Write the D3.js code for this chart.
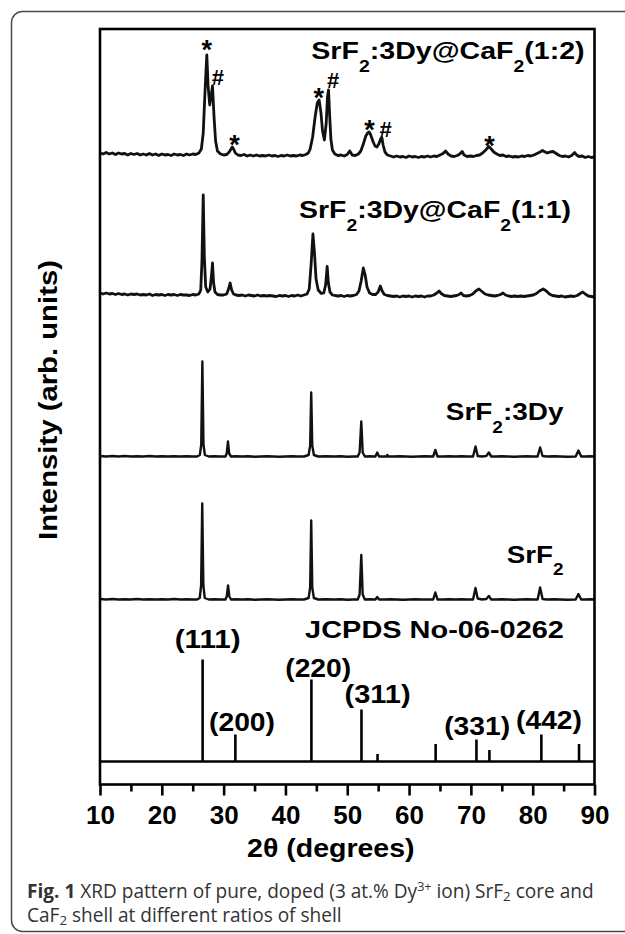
<!DOCTYPE html>
<html><head><meta charset="utf-8">
<script src="https://cdn.jsdelivr.net/npm/d3@7"></script>
<style>html,body{margin:0;padding:0;background:#fff;} svg{display:block;}</style>
</head><body>
<svg id="chart" width="625" height="934"></svg>
<script>
// ================= DATA =================
// 2θ (degrees) vs intensity (arb. units, relative to each pattern's own baseline)
const shell12 = [[10,2],[10.5,1],[11,2.5],[11.5,1],[12,2],[12.5,0.5],[13,2],[13.5,1],[14,1.5],[14.5,0],[15,1.5],[15.5,0.5],[16,1.5],[16.5,0],[17,1],[17.5,0],[18,1.5],[18.5,0],[19,1],[19.5,-0.5],[20,1],[20.5,0],[21,0.5],[21.5,-0.5],[22,1],[22.5,0],[23,0.5],[23.5,-0.5],[24,1],[24.5,0],[25,1],[25.5,0.5],[26,2],[26.4,6],[26.7,22],[27.0,65],[27.28,100],[27.5,68],[27.75,50],[28.0,60],[28.2,69],[28.45,38],[28.7,14],[29.0,4],[29.5,1],[30,0],[30.5,0.5],[30.9,3],[31.2,6],[31.4,8],[31.6,6],[31.9,2],[32.3,0],[32.8,-0.5],[33.3,0.5],[33.8,-1],[34.3,0],[34.8,-1],[35.3,0],[35.8,-1],[36.3,-0.5],[36.8,-1],[37.3,0],[37.8,-1],[38.3,-0.5],[38.8,-1.5],[39.3,-0.5],[39.8,-1],[40.3,0],[40.8,-1],[41.3,-0.5],[41.8,-1],[42.3,0],[42.8,-0.5],[43.3,0.5],[43.7,2],[44.0,6],[44.4,18],[44.8,38],[45.15,52],[45.45,55],[45.75,42],[46.0,24],[46.3,15],[46.6,32],[46.8,58],[46.97,65],[47.15,40],[47.35,16],[47.6,5],[48.0,1],[48.5,-0.5],[49,0],[49.5,-1],[50,0.5],[50.4,4],[50.8,0],[51.3,-0.5],[51.8,1],[52.2,4],[52.6,11],[53.0,19],[53.3,22],[53.55,23],[53.8,20],[54.2,13],[54.5,9],[54.8,8],[55.1,11],[55.4,16],[55.6,17.5],[55.8,10],[56.1,3],[56.5,0],[57,-1],[57.5,-2],[58,-1],[58.5,-2],[59,-1.5],[59.5,-2.5],[60,-1],[60.5,-2],[61,-1.5],[61.5,-2.5],[62,-1.5],[62.5,-2],[63,-1],[63.5,-2],[64,-1],[64.5,-1.5],[65,0],[65.5,1.5],[65.9,4],[66.3,1],[66.8,-1],[67.3,-1.5],[67.8,-0.5],[68.2,1],[68.6,3.5],[68.9,0],[69.4,-1.5],[69.9,-1],[70.4,-1.5],[70.9,-0.5],[71.4,0],[71.9,2],[72.4,5],[72.9,8.5],[73.3,6],[73.7,3],[74.2,1],[74.7,-0.5],[75.2,0],[75.7,-1.5],[76.2,-1],[76.7,-2],[77.2,-1.5],[77.7,-2],[78.2,-1],[78.7,-1.5],[79.2,-0.5],[79.7,-1],[80.2,0],[80.7,1.5],[81.2,3],[81.6,4.5],[82.0,3],[82.4,2],[82.8,3],[83.3,3.5],[83.8,1.5],[84.3,-0.5],[84.8,-1.5],[85.3,-1],[85.8,-2],[86.3,-0.5],[86.8,2.5],[87.1,0],[87.5,-1.5],[88,-1],[88.5,-2.5],[89,-1.5],[89.5,-2.5],[90,-2]];

const shell11 = [[10,2],[10.5,1],[11,2],[11.5,1],[12,1.5],[12.5,0.5],[13,1.5],[13.5,0.5],[14,1],[14.5,0],[15,1],[15.5,0.5],[16,1],[16.5,0],[17,0.5],[17.5,0],[18,1],[18.5,-0.5],[19,0.5],[19.5,0],[20,0.5],[20.5,-0.5],[21,0.5],[21.5,0],[22,0.5],[22.5,-0.5],[23,0.5],[23.5,0],[24,0],[24.5,-0.5],[25,0.5],[25.5,0],[26.0,1],[26.3,5],[26.5,35],[26.7,100],[26.88,38],[27.1,8],[27.45,3],[27.8,6],[28.05,20],[28.2,32],[28.38,12],[28.6,3],[29.0,0.5],[29.5,0],[30,0],[30.5,1],[30.85,7],[31.05,12],[31.3,5],[31.6,1],[32,0],[32.5,-0.5],[33,0],[33.5,-1],[34,0],[34.5,-0.5],[35,-1],[35.5,0],[36,-1],[36.5,-0.5],[37,-1],[37.5,-0.5],[38,-1],[38.5,-1.5],[39,-0.5],[39.5,-1],[40,-0.5],[40.5,-1.5],[41,-0.5],[41.5,-1],[42,0],[42.5,-1],[43,0],[43.5,1],[43.85,6],[44.15,30],[44.45,61],[44.7,42],[44.95,16],[45.3,5],[45.8,1.5],[46.2,2],[46.5,10],[46.75,28.5],[46.95,12],[47.2,3],[47.6,0],[48,-0.5],[48.5,-1],[49,-0.5],[49.5,-1.5],[50,-0.5],[50.5,-1],[51,-0.5],[51.5,0.5],[51.9,4],[52.25,14],[52.6,27],[52.9,20],[53.2,8],[53.6,2],[54.1,0.5],[54.6,0.5],[55.0,3],[55.35,9],[55.65,4],[56.0,0.5],[56.5,-0.5],[57,-1],[57.5,-1.5],[58,-1],[58.5,-2],[59,-1],[59.5,-1.5],[60,-1],[60.5,-2],[61,-1],[61.5,-1.5],[62,-1],[62.5,-2],[63,-1],[63.5,-1],[64,0],[64.5,2],[64.85,4],[65.2,1.5],[65.7,-0.5],[66.2,-1],[66.7,-1.5],[67.2,-1],[67.7,-0.5],[68.1,0.5],[68.4,2],[68.8,-0.5],[69.3,-1],[69.8,-0.5],[70.3,1],[70.8,4],[71.3,6],[71.8,3.5],[72.3,1],[72.8,0],[73.3,-0.5],[73.8,-1],[74.3,-0.5],[74.8,0.5],[75.2,2],[75.6,0],[76.1,-1],[76.6,-1.5],[77.1,-1],[77.6,-1.5],[78.1,-1],[78.6,-1.5],[79.1,-1],[79.6,-0.5],[80.1,0],[80.6,1.5],[81.1,4],[81.7,6],[82.2,4],[82.7,1],[83.2,-0.5],[83.7,-1],[84.2,-1.5],[84.7,-1],[85.2,-2],[85.7,-1.5],[86.2,-1],[86.7,-1.5],[87.2,-0.5],[87.7,1.5],[88.1,3],[88.5,1],[89,-1],[89.5,-1.5],[90,-2]];

const doped = [[10,0.5],[11,0],[12,0.5],[13,0],[14,0.5],[15,0],[16,0.3],[17,0],[18,0.5],[19,0],[20,0.3],[21,0],[22,0.3],[23,0],[24,0.3],[25,0],[25.7,0],[26.15,1.5],[26.38,12],[26.56,95],[26.74,12],[26.97,1.5],[27.6,0],[28.5,0.3],[29.5,0],[30.3,0],[30.5,3],[30.7,15],[30.9,3],[31.2,0],[32,0.3],[33,0],[34,0.3],[35,-0.3],[36,0],[37,0.3],[38,0],[39,-0.3],[40,0],[41,0.3],[42,0],[43,0],[43.75,1.5],[44.0,11],[44.17,64],[44.34,11],[44.6,1.5],[45.3,0],[46.5,0.3],[48,0],[49,0.3],[50,-0.3],[51,0],[51.7,0],[52.0,4],[52.27,35],[52.5,4],[52.85,0],[53.6,0.3],[54.55,0],[54.85,4],[55.15,0],[55.8,0],[56.35,0],[56.5,1.5],[56.65,0],[57.5,0],[58.5,0.3],[59.5,0],[60.5,-0.3],[61.5,0],[62.5,0.3],[63.9,0],[64.25,6.5],[64.6,0],[65.5,0],[66.5,0.3],[67.5,0],[68.5,0.3],[69.5,0],[70.35,0],[70.75,10],[71.1,0.5],[71.8,0],[72.5,0.5],[72.9,4],[73.3,0],[74,0],[75,0.3],[76,0],[77,-0.3],[78,0],[79,0.3],[80,0],[80.8,0],[81.2,9],[81.6,0.5],[82.3,0],[83.5,0.3],[84.5,0],[85.5,-0.3],[86.95,0],[87.4,6],[87.85,0],[88.5,0],[89.3,0.3],[90,0]];

const pure = [[10,0.5],[11,0],[12,0.5],[13,0],[14,0.3],[15,0],[16,0.5],[17,0],[18,0.3],[19,0],[20,0.3],[21,0],[22,0.5],[23,0],[24,0.3],[25,0],[25.7,0],[26.13,1.5],[26.36,14],[26.54,96],[26.72,14],[26.95,1.5],[27.6,0],[28.5,0.3],[29.5,0],[30.3,0],[30.5,3],[30.72,14],[30.92,3],[31.2,0],[32,0.3],[33,0],[34,0.3],[35,-0.3],[36,0],[37,0.3],[38,0],[39,-0.3],[40,0],[41,0.3],[42,0],[43,0],[43.75,1.5],[44.0,12],[44.17,79],[44.34,12],[44.6,1.5],[45.3,0],[46.5,0.3],[48,0],[49,0.3],[50,-0.3],[51,0],[51.7,0],[52.0,5],[52.27,44.5],[52.5,5],[52.85,0],[53.6,0.3],[54.55,0],[54.85,2.5],[55.15,0],[56,0],[57,0.3],[58,0],[59,-0.3],[60,0],[61,0.3],[62,0],[63,0],[63.9,0],[64.25,7],[64.6,0],[65.5,0],[66.5,0.3],[67.5,0],[68.5,0.3],[69.5,0],[70.35,0],[70.75,11.5],[71.1,1],[71.8,0],[72.5,0.5],[72.9,3.5],[73.3,0],[74,0],[75,0.3],[76,0],[77,-0.3],[78,0],[79,0.3],[80,0],[80.8,0],[81.2,12],[81.6,0.5],[82.3,0],[83.5,0.3],[84.5,0],[85.5,-0.3],[86.95,0],[87.4,5.5],[87.85,0],[88.5,0],[89.3,0.3],[90,0]];

const patterns = [shell12, shell11, doped, pure];
const patternOffsets = [629.5, 489.5, 328, 185];   // vertical stacking offsets (arb. units)

// series labels: [text, subscript flag]
const patternLabels = [
  [["SrF"],["2","sub"],[":3Dy@CaF"],["2","sub"],["(1:2)"]],
  [["SrF"],["2","sub"],[":3Dy@CaF"],["2","sub"],["(1:1)"]],
  [["SrF"],["2","sub"],[":3Dy"]],
  [["SrF"],["2","sub"]]
];
const patternLabelTheta = [88.4, 86.2, 84.98, 84.98];   // right end of label (2θ)
const patternLabelLevel = [725.2, 566.5, 364.5, 222];   // baseline (arb. units)

// JCPDS No-06-0262 reference lines
const jcpdsOffset = 23;
const jcpdsTheta = [26.6, 31.9, 44.2, 52.3, 54.9, 64.3, 70.9, 73.0, 81.4, 87.5];
const jcpdsIntensity = [102, 27, 82, 52, 7.5, 17.5, 22, 11.5, 27, 17.5];
const hklLabels = ["(111)", "(200)", "(220)", "(311)", "(331)", "(442)"];
const hklTheta = [27.42, 32.97, 45.3, 54.91, 71.02, 82.64];
const hklLevel = [136.2, 53.5, 107.5, 81.5, 49.5, 56];

// phase markers on the (1:2) pattern
const markerSymbols = ["*", "#", "*", "*", "#", "*", "#", "*"];
const markerTheta = [27.28, 29.06, 31.75, 45.38, 47.7, 53.6, 56.2, 73.0];
const markerLevel = [741.2, 707.8, 645.8, 692.8, 704.5, 661.2, 655.2, 645.2]; // glyph centre

const xTicks = [10, 20, 30, 40, 50, 60, 70, 80, 90];
const xMinorTicks = [15, 25, 35, 45, 55, 65, 75, 85];

// ================= DRAW =================
const BOLD = "'Liberation Sans', Arial, Helvetica, sans-serif";
const svg = d3.select("#chart");

const plot = {left: 100, right: 594.5, top: 29, bottom: 784.5};
const x = d3.scaleLinear().domain([10, 90]).range([plot.left, plot.right]);
const y = d3.scaleLinear().domain([0, plot.bottom - plot.top]).range([plot.bottom, plot.top]);

// card border
svg.append("rect").attr("x", 11.5).attr("y", 11.5).attr("width", 660).attr("height", 920)
  .attr("rx", 11).attr("fill", "none").attr("stroke", "#4a4a4a").attr("stroke-width", 1.5);

function richText(parent, px, py, parts, o) {
  const g = parent.append("g");
  const t = g.append("text").attr("font-family", o.family || BOLD)
    .attr("font-weight", o.weight || 700).attr("font-size", o.size)
    .attr("text-anchor", o.anchor || "start").attr("fill", o.fill || "#000");
  let shift = 0;
  parts.forEach(p => {
    const ts = t.append("tspan").text(p[0]);
    if (p[2]) ts.attr("font-weight", p[2]);
    if (p[1] === "sub") {
      ts.attr("font-size", o.size * (o.subScale || 0.66)).attr("dy", o.subDy - shift); shift = o.subDy;
    } else if (p[1] === "sup") {
      ts.attr("font-size", o.size * 0.66).attr("dy", -o.supDy - shift); shift = -o.supDy;
    } else if (shift !== 0) { ts.attr("dy", -shift); shift = 0; }
  });
  let sx = 1;
  if (o.width) sx = o.width / t.node().getBBox().width;
  g.attr("transform", `translate(${px},${py})` + (o.rotate ? ` rotate(${o.rotate})` : "") + ` scale(${sx},1)`);
  return t;
}

// patterns
const line = d3.line().x(d => x(d[0]));
const pg = svg.append("g");
patterns.forEach((data, i) => {
  pg.append("path")
    .attr("d", line.y(d => y(d[1] + patternOffsets[i]))(data))
    .attr("fill", "none").attr("stroke", "#111")
    .attr("stroke-width", i < 2 ? 2.8 : 2.4).attr("stroke-linejoin", "round");
});

// JCPDS sticks
svg.append("line").attr("x1", x(10)).attr("x2", x(90))
  .attr("y1", y(jcpdsOffset)).attr("y2", y(jcpdsOffset))
  .attr("stroke", "#000").attr("stroke-width", 2.6);
svg.append("g").selectAll("line").data(jcpdsTheta).join("line")
  .attr("x1", d => x(d)).attr("x2", d => x(d))
  .attr("y1", y(jcpdsOffset)).attr("y2", (d, i) => y(jcpdsOffset + jcpdsIntensity[i]))
  .attr("stroke", "#000").attr("stroke-width", 2.6);

// frame
svg.append("rect").attr("x", plot.left).attr("y", plot.top)
  .attr("width", plot.right - plot.left).attr("height", plot.bottom - plot.top)
  .attr("fill", "none").attr("stroke", "#000").attr("stroke-width", 2.6);

// x axis
const ax = svg.append("g").attr("transform", `translate(0,${plot.bottom})`)
  .call(d3.axisBottom(x).tickValues(xTicks).tickSize(11).tickFormat(d3.format("d")));
ax.select(".domain").remove();
ax.selectAll(".tick line").attr("stroke", "#000").attr("stroke-width", 2.6);
ax.selectAll(".tick text").attr("font-family", BOLD).attr("font-weight", 700)
  .attr("font-size", 26).attr("fill", "#000").attr("y", 39.5).attr("dy", 0);
const axm = svg.append("g").attr("transform", `translate(0,${plot.bottom})`)
  .call(d3.axisBottom(x).tickValues(xMinorTicks).tickSize(7).tickFormat(""));
axm.select(".domain").remove();
axm.selectAll(".tick line").attr("stroke", "#000").attr("stroke-width", 2.6);

// axis titles
richText(svg, 330.8, 856.7, [["2θ (degrees)"]], {size: 26, anchor: "middle", width: 167.5});
richText(svg, 57.3, 400, [["Intensity (arb. units)"]], {size: 25.5, anchor: "middle", width: 280, rotate: -90});

// pattern labels
patternLabels.forEach((parts, i) => {
  const widths = [273.5, 272, 118.5, 56.8];
  richText(svg, x(patternLabelTheta[i]), y(patternLabelLevel[i]), parts,
    {size: 24, anchor: "end", width: widths[i], subDy: 12.5, subScale: 0.68});
});

// JCPDS label and hkl
richText(svg, x(85.06), y(146.2), [["JCPDS No-06-0262"]], {size: 24.5, anchor: "end", width: 259});
hklLabels.forEach((h, i) => {
  richText(svg, x(hklTheta[i]), y(hklLevel[i]), [[h]], {size: 26, anchor: "middle", width: 66});
});

// markers
markerSymbols.forEach((s, i) => {
  const fs = s === "*" ? 27 : 22;
  const off = s === "*" ? 0.58 * fs : 0.36 * fs;
  svg.append("text").attr("x", x(markerTheta[i])).attr("y", y(markerLevel[i]) + off)
    .attr("text-anchor", "middle").attr("font-family", BOLD).attr("font-weight", 700)
    .attr("font-size", fs).attr("fill", "#000").text(s);
});

// caption
const CAP = "'Open Sans', 'Noto Sans', sans-serif";
const capParts1 = [["Fig. 1", null, 700], [" XRD pattern of pure, doped (3 at.% Dy"], ["3+", "sup"], [" ion) SrF"], ["2", "sub"], [" core and"]];
const capOpts = {size: 16, family: CAP, weight: 400, fill: "#333", subDy: 3.5, supDy: 6.5, subScale: 0.7};
const cap1 = richText(svg, 27, 897.5, capParts1, capOpts);
const capSize = 16 * 567 / cap1.node().getBBox().width;
cap1.remove();
richText(svg, 27, 897.5, capParts1, Object.assign({}, capOpts, {size: capSize}));
richText(svg, 27, 921.5, [["CaF"], ["2", "sub"], [" shell at different ratios of shell"]],
  Object.assign({}, capOpts, {size: capSize}));
</script>
</body></html>
